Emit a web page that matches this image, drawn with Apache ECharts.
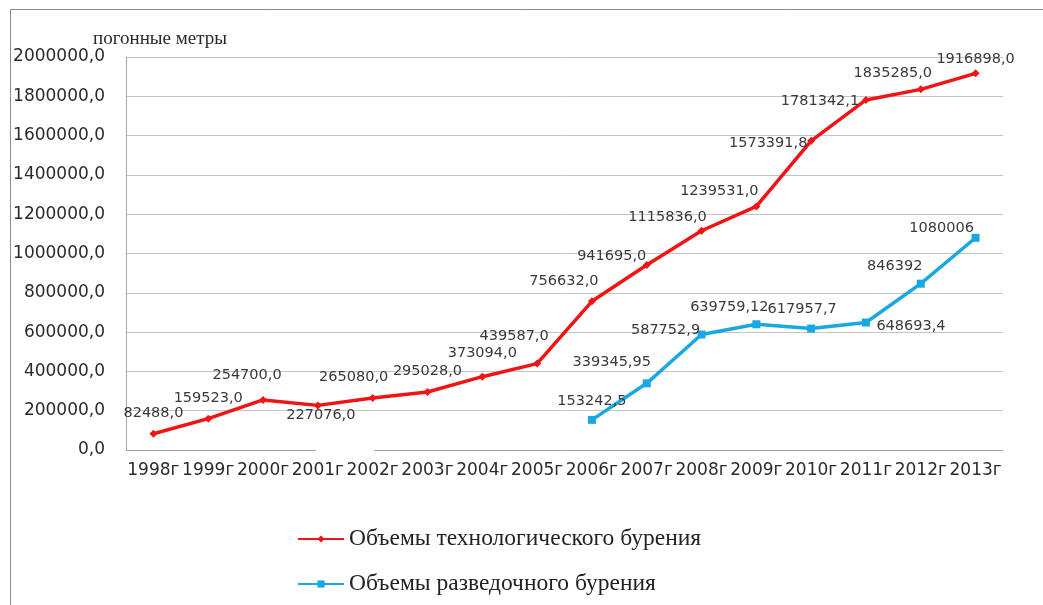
<!DOCTYPE html>
<html>
<head>
<meta charset="utf-8">
<script src="https://cdn.jsdelivr.net/npm/echarts@6/dist/echarts.min.js"></script>
<style>
  html, body { margin: 0; padding: 0; background: #fff; }
  #chart { width: 1043px; height: 605px; }
</style>
</head>
<body>
<div id="chart"></div>
<script>
// Years on the category axis
const years = ['1998г', '1999г', '2000г', '2001г', '2002г', '2003г', '2004г', '2005г',
               '2006г', '2007г', '2008г', '2009г', '2010г', '2011г', '2012г', '2013г'];

// Technological drilling volume, running metres
const techDrilling = [82488.0, 159523.0, 254700.0, 227076.0, 265080.0, 295028.0, 373094.0, 439587.0,
                      756632.0, 941695.0, 1115836.0, 1239531.0, 1573391.8, 1781342.1, 1835285.0, 1916898.0];

// Exploration drilling volume, running metres (starts in 2006)
const exploreDrilling = [null, null, null, null, null, null, null, null,
                         153242.5, 339345.95, 587752.9, 639759.12, 617957.7, 648693.4, 846392, 1080006];

const seriesNames = ['Объемы технологического бурения', 'Объемы разведочного бурения'];
const yTicks = [0, 200000, 400000, 600000, 800000, 1000000, 1200000, 1400000, 1600000, 1800000, 2000000];

// Per-point label nudges (pixels from the marker centre) so labels do not collide with lines
const techLabelShift = [[0,-21],[0,-20],[-16,-25],[3,10],[-19,-21],[0,-21],[0,-23],[-23,-27],
                        [-28,-20],[-35,-9],[-34,-14],[-37,-15],[-43,2],[-46,1],[-28,-16],[0,-14]];
const exploreLabelShift = [null,null,null,null,null,null,null,null,
                           [0,-19],[-35,-21],[-36,-4],[-27,-17],[-9,-19],[45,4],[-26,-17],[-34,-10]];

const RED = '#f01414';
const BLUE = '#19a8e2';

function withLabels(values, shifts) {
  return values.map((v, i) => v == null ? null : {
    value: v,
    label: { offset: shifts[i] }
  });
}

const chart = echarts.init(document.getElementById('chart'), null, { renderer: 'canvas' });

chart.setOption({
  animation: false,
  backgroundColor: '#ffffff',
  title: {
    text: 'погонные метры',
    left: 88,
    top: 25,
    textStyle: { fontFamily: 'Liberation Serif', fontSize: 19, fontWeight: 'normal', color: '#2a2a2a' }
  },
  grid: { left: 126, right: 40, top: 57, bottom: 155, containLabel: false },
  legend: {
    orient: 'vertical',
    left: 292,
    top: 522,
    itemGap: 21,
    itemWidth: 46,
    itemHeight: 9,
    data: seriesNames,
    textStyle: { fontFamily: 'Liberation Serif', fontSize: 23.5, color: '#222' }
  },
  xAxis: {
    type: 'category',
    data: years,
    boundaryGap: true,
    axisLine: { lineStyle: { color: '#a6a6a6', width: 1 } },
    axisTick: { show: false },
    axisLabel: {
      interval: 0,
      margin: 12,
      fontFamily: 'DejaVu Sans',
      fontSize: 17,
      color: '#2b2b2b'
    }
  },
  yAxis: {
    type: 'value',
    min: yTicks[0],
    max: yTicks[yTicks.length - 1],
    interval: yTicks[1] - yTicks[0],
    axisLine: { show: true, lineStyle: { color: '#a6a6a6', width: 1 } },
    axisTick: { show: false },
    splitLine: { lineStyle: { color: '#c4c4c4', width: 1 } },
    axisLabel: {
      margin: 21,
      fontFamily: 'DejaVu Sans',
      fontSize: 17,
      color: '#2b2b2b',
      formatter: v => v.toFixed(1).replace('.', ',')
    }
  },
  series: [
    {
      name: seriesNames[0],
      type: 'line',
      data: withLabels(techDrilling, techLabelShift),
      color: RED,
      lineStyle: { color: RED, width: 3.5 },
      symbol: 'diamond',
      symbolSize: 8,
      itemStyle: { color: RED },
      z: 3,
      label: {
        show: true,
        position: 'inside',
        fontFamily: 'DejaVu Sans',
        fontSize: 14.5,
        color: '#3a3a3a',
        formatter: p => p.value.toFixed(1).replace('.', ',')
      }
    },
    {
      name: seriesNames[1],
      type: 'line',
      data: withLabels(exploreDrilling, exploreLabelShift),
      color: BLUE,
      lineStyle: { color: BLUE, width: 3.5 },
      symbol: 'rect',
      symbolSize: 8,
      itemStyle: { color: BLUE },
      z: 3,
      label: {
        show: true,
        position: 'inside',
        fontFamily: 'DejaVu Sans',
        fontSize: 14.5,
        color: '#3a3a3a',
        formatter: p => String(p.value).replace('.', ',')
      }
    }
  ],
  graphic: [
    // outer frame of the chart area
    {
      type: 'rect',
      shape: { x: 10.5, y: 9.5, width: 1040, height: 610 },
      style: { fill: 'none', stroke: '#8a8a8a', lineWidth: 1 },
      silent: true
    },
    // break in the baseline between 2001 and 2002
    {
      type: 'rect',
      shape: { x: 316, y: 446, width: 58, height: 9 },
      style: { fill: '#ffffff' },
      z: 100,
      silent: true
    }
  ]
});
</script>
</body>
</html>
